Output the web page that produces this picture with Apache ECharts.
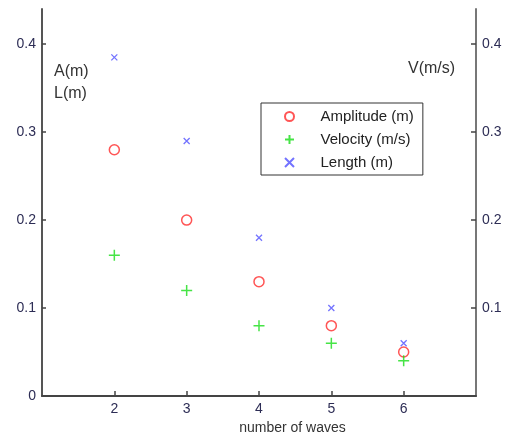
<!DOCTYPE html>
<html>
<head>
<meta charset="utf-8">
<script src="https://cdn.jsdelivr.net/npm/echarts@6/dist/echarts.min.js"></script>
<style>html,body{margin:0;padding:0;background:#fff;}#c{width:508px;height:440px;}</style>
</head>
<body>
<div id="c"></div>
<script>
var waves = [2, 3, 4, 5, 6];
var amplitude = [0.28, 0.20, 0.13, 0.08, 0.05];
var velocity = [0.16, 0.12, 0.08, 0.06, 0.04];
var lengthM = [0.385, 0.29, 0.18, 0.10, 0.06];
var yTicks = [0, 0.1, 0.2, 0.3, 0.4];
var xTicks = [2, 3, 4, 5, 6];

function pairs(xs, ys) { return xs.map(function (x, i) { return [x, ys[i]]; }); }

var FONT = 'Liberation Sans, Arial, sans-serif';
var labelColor = '#2d2d55';
var chart = echarts.init(document.getElementById('c'));
chart.setOption({
  animation: false,
  backgroundColor: '#fff',
  grid: { left: 42, right: 32, top: 9, bottom: 41 },
  xAxis: {
    type: 'value', min: 1, max: 7, interval: 1,
    name: 'number of waves', nameLocation: 'middle', nameGap: 25,
    nameTextStyle: { fontFamily: FONT, fontSize: 14, color: '#333', padding: [0, 0, 0, 67] },
    axisLine: { show: true, lineStyle: { color: '#444', width: 2 } },
    axisTick: { show: true, inside: true, length: 5, customValues: xTicks, lineStyle: { color: '#444', width: 1.5 } },
    axisLabel: { customValues: xTicks, margin: 6, fontFamily: FONT, fontSize: 14, color: labelColor },
    splitLine: { show: false }
  },
  yAxis: [{
    type: 'value', min: 0, max: 0.44, position: 'left',
    axisLine: { show: true, lineStyle: { color: '#555', width: 2 } },
    axisTick: { show: true, inside: true, length: 4, customValues: yTicks, lineStyle: { color: '#444', width: 1.5 } },
    axisLabel: { customValues: yTicks, margin: 6, fontFamily: FONT, fontSize: 14, color: labelColor },
    splitLine: { show: false }
  }, {
    type: 'value', min: 0, max: 0.44, position: 'right',
    axisLine: { show: true, lineStyle: { color: '#777', width: 2 } },
    axisTick: { show: true, inside: true, length: 5, customValues: yTicks.slice(1), lineStyle: { color: '#444', width: 1.5 } },
    axisLabel: { customValues: yTicks.slice(1), margin: 6, fontFamily: FONT, fontSize: 14, color: labelColor },
    splitLine: { show: false }
  }],
  legend: {
    orient: 'vertical', left: 261, top: 103,
    padding: [6, 9, 5, 23], itemGap: 8, itemWidth: 20, itemHeight: 9,
    backgroundColor: '#fff', borderColor: '#333', borderWidth: 1,
    textStyle: { fontFamily: FONT, fontSize: 15, color: '#222', padding: [0, 0, 0, 16] },
    data: ['Amplitude (m)', 'Velocity (m/s)', 'Length (m)']
  },
  graphic: [
    { type: 'text', left: 54, top: 64, style: { text: 'A(m)', fontFamily: FONT, fontSize: 16, fill: '#333' } },
    { type: 'text', left: 54, top: 86, style: { text: 'L(m)', fontFamily: FONT, fontSize: 16, fill: '#333' } },
    { type: 'text', left: 408, top: 61, style: { text: 'V(m/s)', fontFamily: FONT, fontSize: 16, fill: '#333' } }
  ],
  series: [{
    name: 'Amplitude (m)', type: 'scatter', yAxisIndex: 0,
    symbol: 'circle', symbolSize: 10,
    itemStyle: { color: 'rgba(0,0,0,0)', borderColor: '#ff2a2a', borderWidth: 1.5 },
    data: pairs(waves, amplitude)
  }, {
    name: 'Velocity (m/s)', type: 'scatter', yAxisIndex: 1,
    symbol: 'path://M0,5L10,5M5,0L5,10', symbolSize: 11,
    itemStyle: { color: 'rgba(0,0,0,0)', borderColor: '#18dd18', borderWidth: 1.5 },
    data: pairs(waves, velocity)
  }, {
    name: 'Length (m)', type: 'scatter', yAxisIndex: 0,
    symbol: 'path://M0,0L10,10M10,0L0,10', symbolSize: 6,
    itemStyle: { color: 'rgba(0,0,0,0)', borderColor: '#5050ff', borderWidth: 1.3 },
    data: pairs(waves, lengthM)
  }]
});
</script>
</body>
</html>
